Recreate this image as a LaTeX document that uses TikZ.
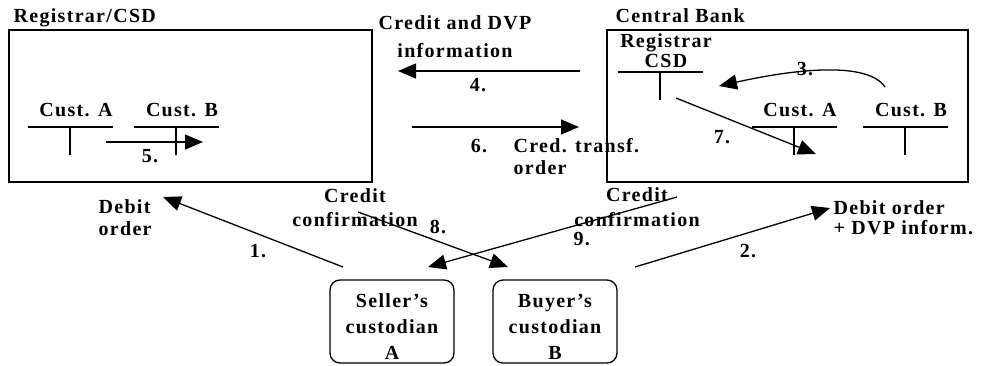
\documentclass[tikz,border=0pt]{standalone}
\usepackage{fontspec}
\setmainfont{Liberation Serif}[LetterSpace=6.5]
\usetikzlibrary{arrows.meta}
\def\tickLen{28}
\def\lineHalf{42.5}
\newcommand{\taccount}[5]{
\begin{scope}[shift={(#2,#3)}]
	\node[lbl=20, anchor=south] (#1) at (6,-#4) {#5};
	\draw[tline] (-\lineHalf,0) -- (\lineHalf,0);
	\draw[tline] (0,0) -- (0,\tickLen);
\end{scope}
}

\begin{document}
\begin{tikzpicture}[x=1pt, y=-1pt, line width=1.3pt,
	lbl/.style={font=\fontsize{20}{#1}\selectfont\bfseries, inner sep=0pt, align=center},
	lbl/.default=22,
	bigbox/.style={draw, line width=1.6pt, minimum width=#1, minimum height=152, inner sep=0pt},
	custbox/.style={draw, line width=1.3pt, rounded corners=10pt, minimum width=124, minimum height=83, inner sep=0pt},
	flow/.style={-{Triangle[length=18pt,width=15pt]}},
	tline/.style={line width=1.2pt}]

	\useasboundingbox (0,0) rectangle (982,365);

	%the two books
	\node[bigbox=363] (csdbox) at (190.5,106) {};
	\node[bigbox=361] (cbbox) at (787.5,106) {};
	\node[lbl, anchor=base west] (csdtitle) at (13,22.5) {Registrar/CSD};
	\node[lbl, anchor=base west] (cbtitle) at (615,22.5) {Central Bank};

	%accounts inside the books
	\taccount{custAl}{70}{127}{10}{Cust. A}
	\taccount{custBl}{176}{127}{10}{Cust. B}
	\taccount{regr}{660}{72}{4}{Registrar\\CSD}
	\taccount{custAr}{794}{127}{10}{Cust. A}
	\taccount{custBr}{905}{127}{10}{Cust. B}

	%custodians
	\node[custbox] (seller) at (392,321.5) {};
	\node[lbl=26] (sellertxt) at ([yshift=-5pt]seller.center) {Seller’s\\custodian\\A};
	\node[custbox] (buyer) at (555,321.5) {};
	\node[lbl=26] (buyertxt) at ([yshift=-5pt]buyer.center) {Buyer’s\\custodian\\B};

	%arrow ends
	\coordinate (s1) at (343,267); \coordinate (e1) at (163,197);
	\coordinate (s2) at (635,267); \coordinate (e2) at (830,208);
	\coordinate (s3) at (885,87);  \coordinate (e3) at (719,86);
	\coordinate (s4) at (580,71);  \coordinate (e4) at (398,71);
	\coordinate (s5) at (106,142); \coordinate (e5) at (203,142);
	\coordinate (s6) at (412,127); \coordinate (e6) at (579,127);
	\coordinate (s7) at (676,98);  \coordinate (e7) at (816,154);
	\coordinate (s8) at (358,212); \coordinate (e8) at (508,267);
	\coordinate (s9) at (677,197); \coordinate (e9) at (428,267);

	%the flows, in their order
	\draw[flow] (s1) -- (e1);
	\draw[flow] (s2) -- (e2);
	\draw[flow] (s3) .. controls (868,62) and (800,68) .. (e3);
	\draw[flow] (s4) -- (e4);
	\draw[flow] (s5) -- (e5);
	\draw[flow] (s6) -- (e6);
	\draw[flow] (s7) -- (e7);
	\draw[flow] (s8) -- (e8);
	\draw[flow] (s9) -- (e9);

	%numbers and messages
	\node[lbl, anchor=base] (n1) at (258,257) {1.};
	\node[lbl, anchor=base] (n2) at (748,257) {2.};
	\node[lbl, anchor=base] (n3) at (805,75) {3.};
	\node[lbl, anchor=base] (n4) at (478,91) {4.};
	\node[lbl, anchor=base] (n5) at (150,162) {5.};
	\node[lbl, anchor=base] (n6) at (479,152.5) {6.};
	\node[lbl, anchor=base] (n7) at (722,143) {7.};
	\node[lbl, anchor=base] (n8) at (438,233) {8.};
	\node[lbl, anchor=base west] (n9) at (573,245) {9.};
	\node[lbl=28] (msg4) at (455,37) {Credit and DVP\\information};
	\node[lbl, align=left, anchor=west] (msg6) at (513,157) {Cred. transf.\\order};
	\node[lbl, align=left, anchor=west] (msg1) at (98,218) {Debit\\order};
	\node[lbl=24] (msg8) at (355,207.5) {Credit\\confirmation};
	\node[lbl=25] (msg9) at (637,207) {Credit\\confirmation};
	\node[lbl=20, align=left, anchor=west] (msg2) at (833,217.5) {Debit order\\+ DVP inform.};

\end{tikzpicture}
\end{document}
